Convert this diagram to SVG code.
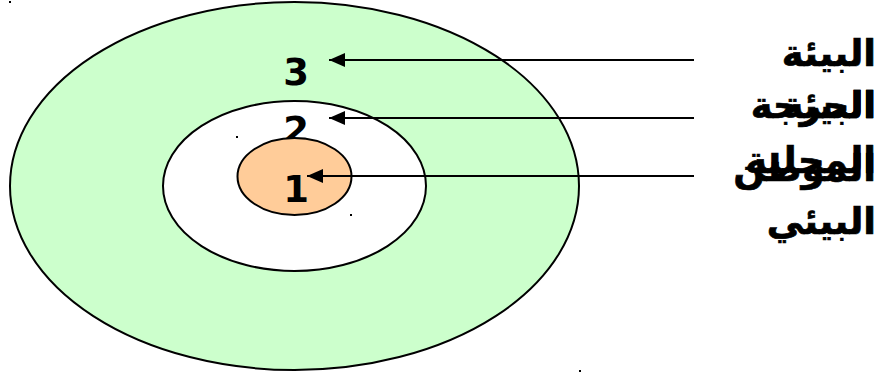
<svg xmlns="http://www.w3.org/2000/svg" width="880" height="376" viewBox="0 0 880 376">
  <style>
    .ring { stroke: #000; stroke-width: 2; }
    .num { font-family: "DejaVu Sans", "Liberation Sans", sans-serif; font-weight: bold; font-size: 37px; text-anchor: middle; fill: #000; }
    .lbl { font-family: "DejaVu Sans", "Liberation Sans", sans-serif; font-weight: bold; font-size: 37px; text-anchor: end; fill: #000; stroke: #000; stroke-width: 0.7; }
    .arrow { stroke: #000; stroke-width: 2; fill: none; marker-end: url(#head); }
    .dot { fill: #000; }
  </style>
  <defs>
    <marker id="head" markerWidth="16" markerHeight="14" refX="16" refY="7" orient="auto" markerUnits="userSpaceOnUse">
      <path d="M0,0 L16,7 L0,14 Z" fill="#000"/>
    </marker>
  </defs>
  <rect width="880" height="376" fill="#fff"/>

  <g id="outer-zone">
    <ellipse class="ring" cx="294.5" cy="186" rx="284.5" ry="184" fill="#ccffcc"/>
    <rect class="dot" x="9" y="1" width="2" height="2"/>
    <rect class="dot" x="579" y="370" width="2" height="2"/>
    <text class="num" x="296" y="85">3</text>
  </g>

  <g id="middle-zone">
    <ellipse class="ring" cx="294.5" cy="186" rx="131.5" ry="85" fill="#fff"/>
    <text class="num" x="296" y="143">2</text>
  </g>

  <g id="inner-zone">
    <ellipse class="ring" cx="294.5" cy="176.5" rx="57" ry="38.5" fill="#ffcc99"/>
    <rect class="dot" x="236" y="136" width="2" height="2"/>
    <rect class="dot" x="350" y="214" width="2" height="2"/>
    <text class="num" x="296" y="202">1</text>
  </g>

  <g id="connectors">
    <line class="arrow" x1="694" y1="60" x2="329" y2="60"/>
    <line class="arrow" x1="694" y1="118" x2="329" y2="118"/>
    <line class="arrow" x1="694" y1="176" x2="307" y2="176"/>
  </g>

  <g id="label-critical">
    <text class="lbl" x="876" y="66">البيئة</text>
    <text class="lbl" x="876" y="118">الحرجة</text>
  </g>
  <g id="label-local">
    <text class="lbl" x="876" y="118">البيئة</text>
    <text class="lbl" x="876" y="173">المحلية</text>
  </g>
  <g id="label-habitat">
    <text class="lbl" x="876" y="181">الموطن</text>
    <text class="lbl" x="876" y="234">البيئي</text>
  </g>
</svg>
